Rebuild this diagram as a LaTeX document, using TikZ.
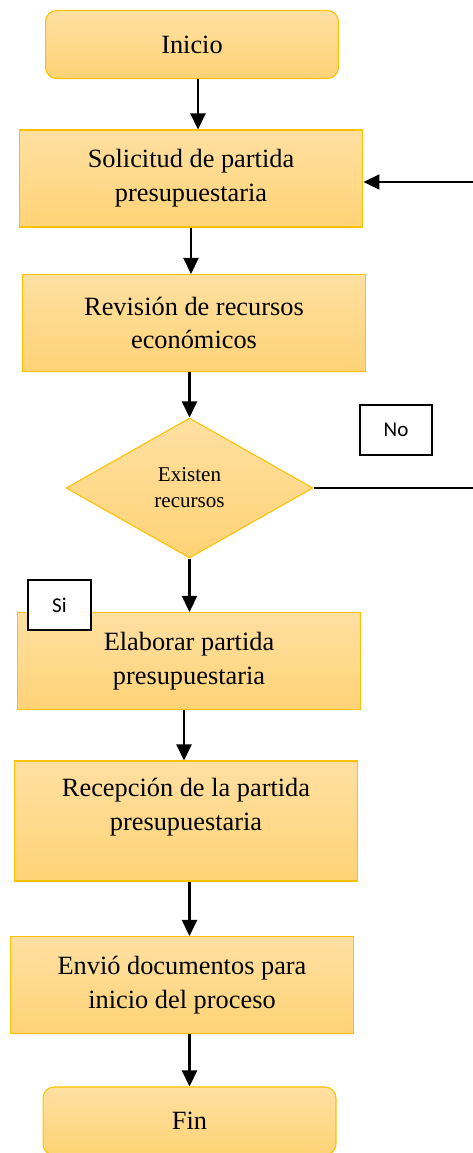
\documentclass[tikz,border=0pt]{standalone}
\usepackage{fontspec}
\setmainfont{Liberation Serif}
\newfontfamily\etiqfont{Carlito}
\usetikzlibrary{arrows.meta,shapes.geometric}
\definecolor{bordeor}{RGB}{255,192,0}
\definecolor{hautor}{RGB}{255,224,162}
\definecolor{basor}{RGB}{255,211,118}

\begin{document}
\begin{tikzpicture}[x=0.02cm, y=-0.02cm,
  boite/.style={draw=bordeor, line width=0.6pt, top color=hautor, bottom color=basor,
    minimum width=6.88cm, minimum height=1.94cm, align=center,
    font=\fontsize{15}{19.3}\selectfont},
  terminal/.style={boite, rounded corners=0.22cm, minimum width=5.86cm, minimum height=1.36cm},
  decision/.style={diamond, draw=bordeor, line width=0.6pt, top color=hautor, bottom color=basor,
    minimum width=4.94cm, minimum height=2.8cm, inner sep=0pt, align=center,
    font=\fontsize{12}{14.7}\selectfont},
  etiq/.style={draw, line width=0.9pt, fill=white, minimum height=1cm, inner sep=0pt,
    font=\etiqfont\fontsize{12}{14}\selectfont},
  fleche/.style={-{Triangle[length=0.32cm, width=0.3cm]}, line width=1.3pt}]
\useasboundingbox (0,0) rectangle (473,1153);
\node [terminal] (inicio) at (192,44.5) {Inicio};
\node [boite] (solicitud) at (191,178.5) {Solicitud de partida\\presupuestaria};
\node [boite] (revision) at (194,323) {Revisión de recursos\\económicos};
\node [decision] (existen) at (189.5,488) {Existen\\recursos};
\node [boite] (elaborar) at (189,661) {Elaborar partida\\presupuestaria};
\node [boite, minimum height=2.4cm] (recepcion) at (186,821) {Recepción de la partida\\presupuestaria\\\mbox{}};
\node [boite] (envio) at (182,985) {Envió documentos para\\inicio del proceso};
\node [terminal] (fin) at (189.5,1121) {Fin};
\node [etiq, minimum width=1.44cm] (no) at (396,430) {No};
\node [etiq, minimum width=1.26cm] (si) at (59.5,605) {Si};
\coordinate (bordno) at (473,488);
\coordinate (bordsol) at (473,182);
\draw[fleche] (inicio.south -| 198,0) -- (solicitud.north -| 198,0);
\draw[fleche] (solicitud) -- (solicitud |- revision.north);
\draw[fleche] (existen |- revision.south) -- (existen);
\draw[fleche] (existen) -- (existen |- elaborar.north);
\draw[fleche] (elaborar.south -| 184,0) -- (recepcion.north -| 184,0);
\draw[fleche] (recepcion.south -| fin) -- (envio.north -| fin);
\draw[fleche] (envio.south -| fin) -- (fin);
\draw[line width=0.8pt] (existen.east) -- (bordno);
\draw[fleche] (bordsol) -- (bordsol -| solicitud.east);
\end{tikzpicture}
\end{document}
